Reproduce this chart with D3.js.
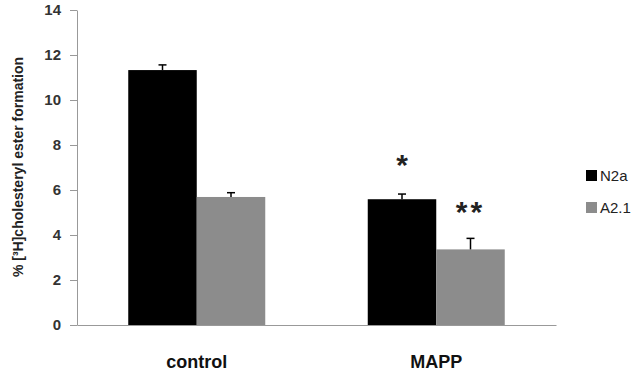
<!DOCTYPE html>
<html>
<head>
<meta charset="utf-8">
<script src="https://cdn.jsdelivr.net/npm/d3@7"></script>
<style>
  body { margin: 0; background: #fff; }
  text { font-family: "Liberation Sans", Arial, sans-serif; }
</style>
</head>
<body>
<svg width="641" height="375"></svg>
<script>
const categories = ["control", "MAPP"];
const seriesNames = ["N2a", "A2.1"];
const n2aValues = [11.33, 5.59];
const n2aErrors = [0.23, 0.23];
const a21Values = [5.69, 3.36];
const a21Errors = [0.19, 0.49];
const stars = ["", "*"];
const a21Stars = ["", "**"];
const yTicks = [0, 2, 4, 6, 8, 10, 12, 14];
const colors = ["#000000", "#8c8c8c"];

const series = [
  { name: seriesNames[0], values: n2aValues, errors: n2aErrors, stars: stars },
  { name: seriesNames[1], values: a21Values, errors: a21Errors, stars: a21Stars }
];

const svg = d3.select("svg");
const plotLeft = 77, plotRight = 556, plotTop = 10, plotBottom = 325;

const x = d3.scaleBand().domain(categories).range([plotLeft, plotRight]);
const inner = d3.scaleBand().domain(seriesNames).range([0, 137]);
const y = d3.scaleLinear().domain([0, 14]).range([plotBottom, plotTop]);

// bars
const groups = svg.selectAll(".grp")
  .data(categories)
  .enter().append("g")
  .attr("transform", d => `translate(${x(d) + x.bandwidth() / 2 - 68.5},0)`);

series.forEach((s, si) => {
  groups.append("rect")
    .attr("x", inner(s.name))
    .attr("y", (d, i) => y(s.values[i]))
    .attr("width", inner.bandwidth())
    .attr("height", (d, i) => plotBottom - y(s.values[i]))
    .attr("fill", colors[si]);

  // error bars (upper only)
  groups.append("line")
    .attr("x1", inner(s.name) + inner.bandwidth() / 2)
    .attr("x2", inner(s.name) + inner.bandwidth() / 2)
    .attr("y1", (d, i) => y(s.values[i]))
    .attr("y2", (d, i) => y(s.values[i] + s.errors[i]))
    .attr("stroke", "#000").attr("stroke-width", 1.5);
  groups.append("line")
    .attr("x1", inner(s.name) + inner.bandwidth() / 2 - 4)
    .attr("x2", inner(s.name) + inner.bandwidth() / 2 + 4)
    .attr("y1", (d, i) => y(s.values[i] + s.errors[i]))
    .attr("y2", (d, i) => y(s.values[i] + s.errors[i]))
    .attr("stroke", "#000").attr("stroke-width", 1.5);
});

// significance stars
groups.append("text")
  .attr("x", inner(seriesNames[0]) + inner.bandwidth() / 2)
  .attr("y", (d, i) => y(n2aValues[i]) - 24)
  .attr("text-anchor", "middle")
  .style("font-size", "30px")
  .style("font-weight", "bold")
  .attr("fill", "#222")
  .text((d, i) => stars[i]);
groups.append("text")
  .attr("x", inner(seriesNames[1]) + inner.bandwidth() / 2)
  .attr("y", (d, i) => y(a21Values[i]) - 27)
  .attr("text-anchor", "middle")
  .style("font-size", "30px")
  .style("font-weight", "bold")
  .style("letter-spacing", "3px")
  .attr("fill", "#222")
  .text((d, i) => a21Stars[i]);

// y axis
const yAxis = svg.append("g")
  .attr("transform", `translate(${plotLeft},0)`)
  .call(d3.axisLeft(y).tickValues(yTicks).tickSize(7).tickSizeOuter(0));
yAxis.selectAll("line, path").attr("stroke", "#999");
yAxis.selectAll("text")
  .attr("x", -16)
  .style("font-size", "15px")
  .style("font-weight", "bold")
  .attr("fill", "#333");

// x axis
const xAxis = svg.append("g")
  .attr("transform", `translate(0,${plotBottom})`)
  .call(d3.axisBottom(x).tickSize(0).tickSizeOuter(0));
xAxis.select("path").attr("stroke", "#999");
xAxis.selectAll("text")
  .attr("dy", 0)
  .attr("y", 43)
  .style("font-size", "18px")
  .style("font-weight", "bold")
  .attr("fill", "#111");

// y title
svg.append("text")
  .attr("transform", `translate(23,${167}) rotate(-90)`)
  .attr("text-anchor", "middle")
  .style("font-size", "14px")
  .style("font-weight", "bold")
  .attr("fill", "#222")
  .text("% [³H]cholesteryl ester formation");

// legend
const legend = svg.selectAll(".leg")
  .data(series)
  .enter().append("g")
  .attr("transform", (d, i) => `translate(586,${170 + i * 32})`);
legend.append("rect")
  .attr("width", 11).attr("height", 11)
  .attr("fill", (d, i) => colors[i]);
legend.append("text")
  .attr("x", 14).attr("y", 11)
  .style("font-size", "15px")
  .attr("fill", "#222")
  .text(d => d.name);
</script>
</body>
</html>
